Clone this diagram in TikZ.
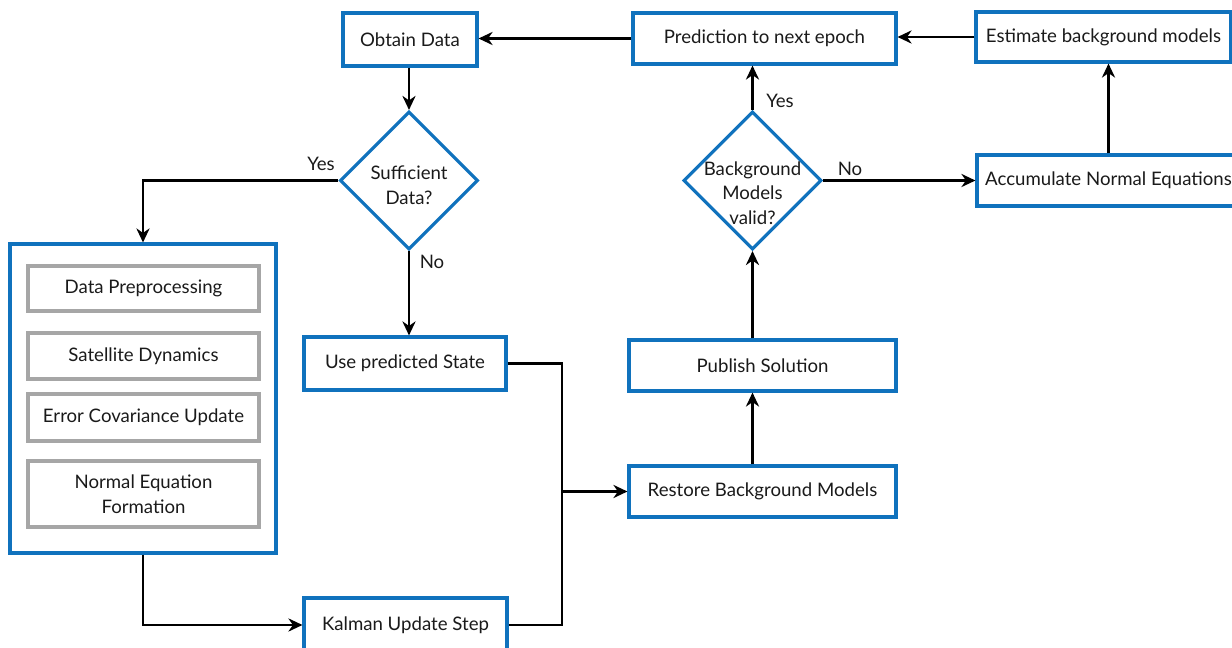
\documentclass[tikz,border=0pt]{standalone}
\usepackage{fontspec}
\setmainfont{Lato}
\usetikzlibrary{shapes.geometric,arrows.meta}
\definecolor{boxblue}{RGB}{16,114,189}
\definecolor{subgray}{RGB}{166,166,166}
\definecolor{inkgray}{RGB}{26,26,26}

\begin{document}
\begin{tikzpicture}[
    x=0.02cm,y=-0.02cm,
    every node/.style={font=\fontsize{10.6}{14}\selectfont, text=inkgray},
    stepbox/.style={draw=boxblue, line width=1.8pt, fill=white, align=center, inner sep=2pt},
    subbox/.style={draw=subgray, line width=1.8pt, align=center, minimum width=4.62cm},
    decision/.style={diamond, aspect=1, draw=boxblue, line width=1.8pt, minimum size=2.76cm, inner sep=0pt},
    inside/.style={align=center, inner sep=0pt},
    outer/.style={draw=boxblue, line width=1.8pt, minimum width=5.32cm, minimum height=6.18cm},
    flow/.style={-{Stealth[length=8pt,width=7.5pt]}, line width=1.2pt, draw=black},
    wire/.style={line width=1.2pt, draw=black},
    tag/.style={inner sep=1pt}
]
    \useasboundingbox (0,0) rectangle (1232,648);

    % top row
    \node[stepbox, minimum width=2.68cm, minimum height=1.06cm] (obtain) at (410,39.5) {Obtain Data};
    \node[stepbox, minimum width=5.26cm, minimum height=1.02cm] (predict) at (764.5,38.5) {Prediction to next epoch};
    \node[stepbox, minimum width=5.10cm, minimum height=1.00cm] (estimate) at (1103.5,37) {Estimate background models};

    % decisions
    \node[decision] (suff) at (409,180.5) {};
    \node[inside] (sufftext) at (409,185) {Sufficient\\Data?};
    \node[decision] (valid) at (752.5,180.5) {};
    \node[inside] (validtext) at (752.5,193) {Background\\Models\\valid?};
    \node[stepbox, minimum width=5.26cm, minimum height=1.02cm] (accum) at (1108.5,180.5) {Accumulate Normal Equations};

    % filter block
    \node[outer] (filter) at (143,398.5) {};
    \node[subbox, minimum height=0.90cm] (prep) at (143.5,288.5) {Data Preprocessing};
    \node[subbox, minimum height=0.92cm] (dyn) at (143.5,356) {Satellite Dynamics};
    \node[subbox, minimum height=0.94cm] (cov) at (143.5,417.5) {Error Covariance Update};
    \node[subbox, minimum height=1.32cm] (normeq) at (143.5,494) {Normal Equation\\Formation};

    \node[stepbox, minimum width=4.04cm, minimum height=1.06cm] (usepred) at (405,363.5) {Use predicted State};
    \node[stepbox, minimum width=4.06cm, minimum height=1.08cm] (kalman) at (405.5,625) {Kalman Update Step};
    \node[stepbox, minimum width=5.34cm, minimum height=1.02cm] (publish) at (762.5,365.5) {Publish Solution};
    \node[stepbox, minimum width=5.34cm, minimum height=1.02cm] (restore) at (762.5,491.5) {Restore Background Models};

    % connectors
    \draw[flow] (predict.west) -- (predict.west -| obtain.east);
    \draw[flow] (estimate.west) -- (estimate.west -| predict.east);
    \draw[flow] (obtain.south -| suff.north) -- (suff.north);
    \draw[flow] (suff.west) -| (filter.north);
    \node[tag] (yes1) at (321,164) {Yes};
    \draw[flow] (suff.south) -- (usepred.north -| suff.south);
    \node[tag] (no1) at (432,262) {No};
    \draw[flow] (filter.south) |- (kalman.west);

    \coordinate (junc) at (562,491.5);
    \draw[wire] (usepred.east) -| (junc);
    \draw[wire] (kalman.east) -| (junc);
    \draw[flow] (junc) -- (restore.west);

    \draw[flow] (restore.north -| valid.south) -- (publish.south -| valid.south);
    \draw[flow] (publish.north -| valid.south) -- (valid.south);
    \draw[flow] (valid.north) -- (predict.south -| valid.north);
    \node[tag] (yes2) at (780,101) {Yes};
    \draw[flow] (valid.east) -- (accum.west);
    \node[tag] (no2) at (850,169) {No};
    \draw[flow] (accum.north) -- (accum.north |- estimate.south);
\end{tikzpicture}
\end{document}
